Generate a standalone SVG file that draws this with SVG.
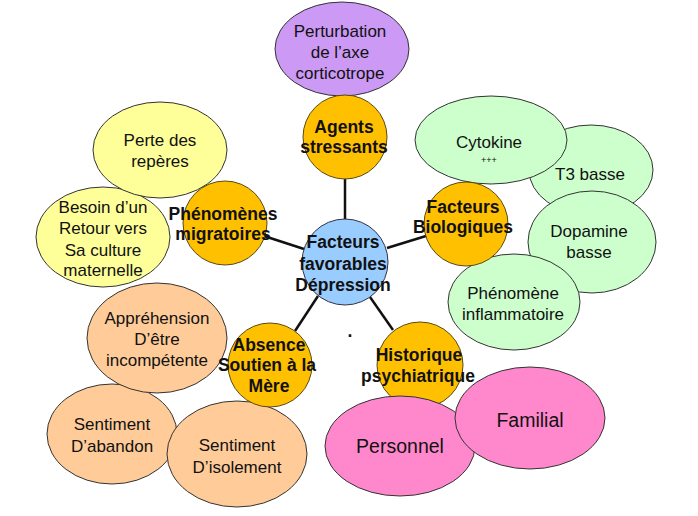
<svg xmlns="http://www.w3.org/2000/svg" width="698" height="516" viewBox="0 0 698 516">
<style>
text{font-family:"Liberation Sans",Arial,sans-serif;text-anchor:middle;fill:#111}
.t{font-size:17px}
.b{font-size:17.5px;font-weight:bold}
.big{font-size:19.5px}
.sm{font-size:9px}
.hub{fill:#FFC000;stroke:#5a4a10;stroke-width:1}
.ctr{fill:#99CCFF;stroke:#334;stroke-width:1}
.pur{fill:#CC99F5;stroke:#333;stroke-width:1}
.yel{fill:#FFFF99;stroke:#333;stroke-width:1}
.grn{fill:#CCFFCC;stroke:#333;stroke-width:1}
.pch{fill:#FFCC99;stroke:#333;stroke-width:1}
.pnk{fill:#FF88CC;stroke:#333;stroke-width:1}
.con line{stroke:#111;stroke-width:2.5}
</style>
<rect width="698" height="516" fill="#fff"/>
<g id="connectors" class="con">
<line x1="345" y1="176" x2="345" y2="221"/>
<line x1="264" y1="236" x2="304" y2="249"/>
<line x1="387" y1="248" x2="426" y2="236"/>
<line x1="318" y1="296" x2="295" y2="331"/>
<line x1="370" y1="297" x2="393" y2="330"/>
</g>
<g id="n-perturbation"><ellipse class="pur" cx="342" cy="49" rx="67" ry="47"/>
<text class="t" x="340" y="37">Perturbation</text><text class="t" x="340" y="58">de l’axe</text><text class="t" x="340" y="79">corticotrope</text></g>
<g id="n-agents"><circle class="hub" cx="345" cy="137" r="42"/>
<text class="b" x="344" y="133">Agents</text><text class="b" x="344" y="153">stressants</text></g>
<g id="n-besoin"><ellipse class="yel" cx="103" cy="237" rx="67" ry="50"/>
<text class="t" x="103" y="213">Besoin d’un</text><text class="t" x="103" y="234">Retour vers</text><text class="t" x="103" y="256">Sa culture</text><text class="t" x="103" y="276">maternelle</text></g>
<g id="n-perte"><ellipse class="yel" cx="160" cy="150" rx="67" ry="48"/>
<text class="t" x="160" y="146">Perte des</text><text class="t" x="160" y="167">repères</text></g>
<g id="n-phenomenes"><circle class="hub" cx="225" cy="223" r="42"/>
<text class="b" x="223" y="220">Phénomènes</text><text class="b" x="223" y="240">migratoires</text></g>
<g id="n-t3"><ellipse class="grn" cx="591" cy="170" rx="62" ry="45"/>
<text class="t" x="590" y="180">T3 basse</text></g>
<g id="n-cytokine"><ellipse class="grn" cx="491" cy="140" rx="76" ry="44"/>
<text class="t" x="489" y="148">Cytokine</text><text class="sm" x="489" y="163">+++</text></g>
<g id="n-dopamine"><ellipse class="grn" cx="592" cy="242" rx="64" ry="51"/>
<text class="t" x="589" y="237">Dopamine</text><text class="t" x="589" y="258">basse</text></g>
<g id="n-inflammatoire"><ellipse class="grn" cx="514" cy="302" rx="66" ry="48"/>
<text class="t" x="513" y="299">Phénomène</text><text class="t" x="513" y="320">inflammatoire</text></g>
<g id="n-biologiques"><circle class="hub" cx="466" cy="224" r="42"/>
<text class="b" x="463" y="213">Facteurs</text><text class="b" x="463" y="233">Biologiques</text></g>
<g id="n-center"><circle class="ctr" cx="345" cy="262" r="43"/>
<text class="b" x="343" y="248">Facteurs</text><text class="b" x="343" y="270">favorables</text><text class="b" x="343" y="291">Dépression</text></g>
<g id="n-abandon"><ellipse class="pch" cx="112" cy="434" rx="65" ry="50"/>
<text class="t" x="112" y="430">Sentiment</text><text class="t" x="112" y="452">D’abandon</text></g>
<g id="n-isolement"><ellipse class="pch" cx="237" cy="454" rx="70" ry="53"/>
<text class="t" x="237" y="451">Sentiment</text><text class="t" x="237" y="473">D’isolement</text></g>
<g id="n-apprehension"><ellipse class="pch" cx="157" cy="338" rx="70" ry="55"/>
<text class="t" x="157" y="324">Appréhension</text><text class="t" x="157" y="345">D’être</text><text class="t" x="157" y="366">incompétente</text></g>
<g id="n-absence"><circle class="hub" cx="270" cy="365" r="42"/>
<text class="b" x="269" y="351">Absence</text><text class="b" x="267" y="371">Soutien à la</text><text class="b" x="269" y="392">Mère</text></g>
<g id="n-historique"><circle class="hub" cx="420" cy="365" r="43"/></g>
<g id="n-personnel"><ellipse class="pnk" cx="400" cy="446" rx="75" ry="50"/>
<text class="big" x="400" y="453">Personnel</text></g>
<g id="n-familial"><ellipse class="pnk" cx="530" cy="418" rx="75" ry="51"/>
<text class="big" x="530" y="427">Familial</text></g>
<g id="n-historique-label"><text class="b" x="419" y="361">Historique</text><text class="b" x="418" y="382">psychiatrique</text></g>
<text class="b" x="350" y="337">.</text>
</svg>
